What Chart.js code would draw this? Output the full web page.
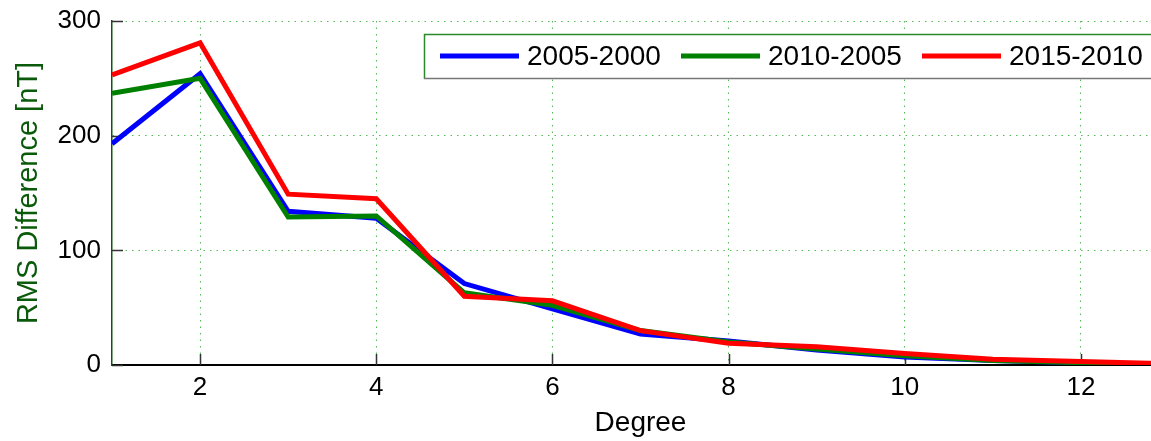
<!DOCTYPE html>
<html>
<head>
<meta charset="utf-8">
<script src="https://cdn.jsdelivr.net/npm/chart.js@4"></script>
<style>
  html, body { margin: 0; padding: 0; background: #fff; overflow: hidden; }
  #wrap { width: 1172px; height: 441px; }
</style>
</head>
<body>
<div id="wrap"><canvas id="graphCanvas"></canvas></div>
<script>
const degrees = [1, 2, 3, 4, 5, 6, 7, 8, 9, 10, 11, 12, 13];
const diff_2005_2000 = [193, 254, 134, 128, 71, 49, 27, 21, 13, 7, 4, 2, 0.5];
const diff_2010_2005 = [237, 250, 129, 130, 63, 52, 30, 20, 14, 8, 4, 2, 0.5];
const diff_2015_2010 = [253, 281, 149, 145, 60, 56, 30, 19, 16, 10, 5, 3, 1];
const series_names = ["2005-2000", "2010-2005", "2015-2010"];
const x_ticks = [2, 4, 6, 8, 10, 12];
const y_ticks = [0, 100, 200, 300];

const font_family = "'Liberation Sans', Arial, sans-serif";
const grid_green = "#55bb55";

function makeSet(name, values, color, order){
    return {
        label: name,
        data: degrees.map((d, i) => ({x: d, y: values[i]})),
        borderColor: color,
        backgroundColor: color,
        borderWidth: 5,
        pointRadius: 0,
        tension: 0,
        fill: false,
        order: order
    };
}

// ticks drawn inside the axes, MATLAB style
const innerTicks = {
    id: "innerTicks",
    beforeDatasetsDraw(chart){
        const c = chart.ctx;
        const xs = chart.scales.x, ys = chart.scales.y;
        const area = chart.chartArea;
        c.save();
        c.lineWidth = 1.5;
        c.strokeStyle = "#333";
        c.beginPath();
        x_ticks.forEach(v => {
            const px = Math.round(xs.getPixelForValue(v)) + 0.5;
            c.moveTo(px, area.bottom);
            c.lineTo(px, area.bottom - 11);
        });
        y_ticks.forEach(v => {
            const py = Math.round(ys.getPixelForValue(v)) + 0.5;
            c.moveTo(area.left, py);
            c.lineTo(area.left + 11, py);
        });
        c.stroke();
        c.restore();
    }
};

// boxed legend in the upper right, running off the edge like the source
const boxLegend = {
    id: "boxLegend",
    afterDraw(chart){
        const c = chart.ctx;
        const left = 424, top = 34, bottom = 79, right = 1166;
        c.save();
        c.fillStyle = "#fff";
        c.fillRect(left, top, right - left, bottom - top);
        c.lineWidth = 1.5;
        c.strokeStyle = "#2a8a2a";
        c.beginPath();
        c.moveTo(left + 0.5, bottom);
        c.lineTo(left + 0.5, top + 0.5);
        c.lineTo(right, top + 0.5);
        c.stroke();
        c.strokeStyle = "#777";
        c.beginPath();
        c.moveTo(left, bottom - 0.5);
        c.lineTo(right, bottom - 0.5);
        c.stroke();

        c.font = "28px " + font_family;
        c.textBaseline = "middle";
        c.textAlign = "left";
        let x = 440;
        const midY = 57;
        chart.data.datasets.forEach(ds => {
            c.strokeStyle = ds.borderColor;
            c.lineWidth = 5;
            c.beginPath();
            c.moveTo(x, midY - 1);
            c.lineTo(x + 79, midY - 1);
            c.stroke();
            c.fillStyle = "#000";
            c.fillText(ds.label, x + 87, midY);
            x += 241;
        });
        c.restore();
    }
};

const config = {
    type: "line",
    data: {
        datasets: [
            makeSet(series_names[0], diff_2005_2000, "#0000ff", 3),
            makeSet(series_names[1], diff_2010_2005, "#008000", 2),
            makeSet(series_names[2], diff_2015_2010, "#ff0000", 1)
        ]
    },
    options: {
        responsive: true,
        maintainAspectRatio: false,
        animation: false,
        layout: { padding: { top: 21, right: 3, left: 0, bottom: 0 } },
        plugins: {
            legend: { display: false },
            tooltip: { enabled: false }
        },
        scales: {
            x: {
                type: "linear",
                min: 1,
                max: 13,
                afterBuildTicks: s => { s.ticks = x_ticks.map(v => ({value: v})); },
                afterFit: s => { s.height = 76; s.paddingLeft = 0; s.paddingRight = 0; },
                ticks: {
                    color: "#000",
                    padding: 7,
                    maxRotation: 0,
                    font: { family: font_family, size: 26 }
                },
                grid: { color: grid_green, lineWidth: 1, drawTicks: false },
                border: { color: "#000", width: 2, dash: [1.5, 5] },
                title: {
                    display: true,
                    text: "Degree",
                    color: "#000",
                    padding: { top: 0, bottom: 1 },
                    font: { family: font_family, size: 28 }
                }
            },
            y: {
                min: 0,
                max: 300,
                afterBuildTicks: s => { s.ticks = y_ticks.map(v => ({value: v})); },
                afterFit: s => { s.width = 112; s.paddingTop = 0; s.paddingBottom = 0; },
                ticks: {
                    color: "#000",
                    padding: 11,
                    font: { family: font_family, size: 26 }
                },
                grid: { color: grid_green, lineWidth: 1, drawTicks: false },
                border: { color: "#0a5a0a", width: 1.5, dash: [1.5, 5] },
                title: {
                    display: true,
                    text: "RMS Difference [nT]",
                    color: "#0b5a0b",
                    padding: { top: 12, bottom: 0 },
                    font: { family: font_family, size: 29 }
                }
            }
        }
    },
    plugins: [innerTicks, boxLegend]
};

let chart = null;

function startChart(){
    const ctx = document.getElementById("graphCanvas").getContext("2d");
    chart = new Chart(ctx, config);
}

startChart();
</script>
</body>
</html>
